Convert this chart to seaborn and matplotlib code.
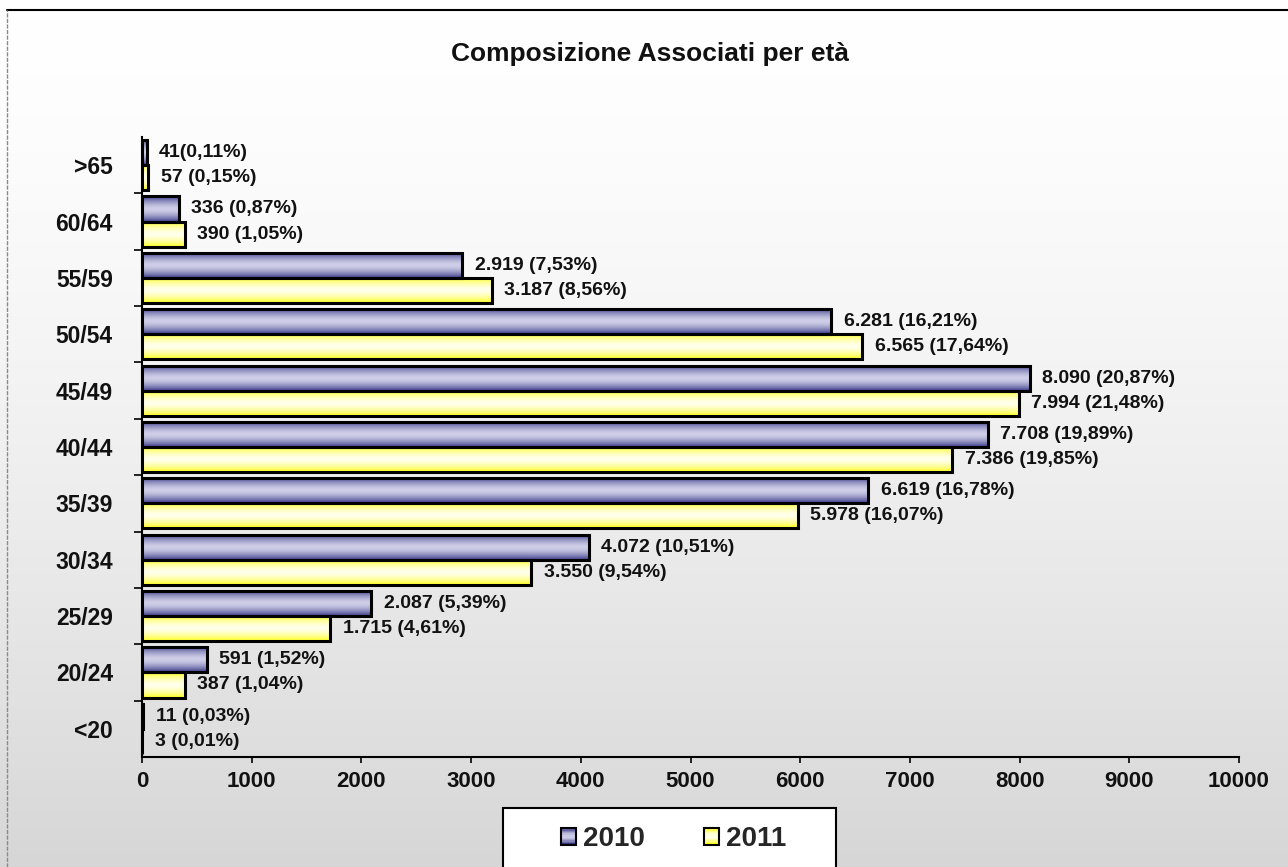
import numpy as np
import pandas as pd
import matplotlib
matplotlib.use("Agg")
import matplotlib.pyplot as plt
import seaborn as sns
from matplotlib.colors import to_rgb
from matplotlib.lines import Line2D
from matplotlib.patches import Rectangle
from matplotlib.legend_handler import HandlerBase

# ---------------- data ----------------
categories = [">65", "60/64", "55/59", "50/54", "45/49", "40/44",
              "35/39", "30/34", "25/29", "20/24", "<20"]
years = ["2010", "2011"]
values_2010 = [41, 336, 2919, 6281, 8090, 7708, 6619, 4072, 2087, 591, 11]
values_2011 = [57, 390, 3187, 6565, 7994, 7386, 5978, 3550, 1715, 387, 3]
labels_2010 = ["41(0,11%)", "336 (0,87%)", "2.919 (7,53%)", "6.281 (16,21%)",
               "8.090 (20,87%)", "7.708 (19,89%)", "6.619 (16,78%)",
               "4.072 (10,51%)", "2.087 (5,39%)", "591 (1,52%)", "11 (0,03%)"]
labels_2011 = ["57 (0,15%)", "390 (1,05%)", "3.187 (8,56%)", "6.565 (17,64%)",
               "7.994 (21,48%)", "7.386 (19,85%)", "5.978 (16,07%)",
               "3.550 (9,54%)", "1.715 (4,61%)", "387 (1,04%)", "3 (0,01%)"]
x_ticks = [0, 1000, 2000, 3000, 4000, 5000, 6000, 7000, 8000, 9000, 10000]
title = "Composizione Associati per età"

df = pd.DataFrame({
    "categoria": categories * 2,
    "valore": values_2010 + values_2011,
    "anno": [years[0]] * len(categories) + [years[1]] * len(categories),
})

# ---------------- style ----------------
sns.set_style("white")
plt.rcParams["font.family"] = ["Liberation Sans", "DejaVu Sans"]
plt.rcParams["font.weight"] = "bold"

edge_cols = {"2010": "#3c3c8a", "2011": "#ffff20"}
center_cols = {"2010": "#cfcfe8", "2011": "#ffffec"}


def gradient_rgb(year, n=64):
    t = np.linspace(-1, 1, n)
    f = 1 - np.abs(t) ** 1.6
    e = np.array(to_rgb(edge_cols[year]))
    c = np.array(to_rgb(center_cols[year]))
    return (e[None, :] + (c - e)[None, :] * f[:, None])


fig = plt.figure(figsize=(12.88, 8.67), dpi=100)

# background gradient (white top -> grey bottom)
bg = fig.add_axes([0, 0, 1, 1], zorder=-10)
tt = np.linspace(0, 1, 400)
g = 1 - 0.16 * tt ** 1.5
bg_img = np.repeat(np.stack([g, g, g], axis=1)[:, None, :], 2, axis=1)
bg.imshow(bg_img, extent=[0, 1, 0, 1], aspect="auto", origin="upper")
bg.set_axis_off()

ax = fig.add_axes([0.1103, 0.1269, 0.8517, 0.7151])
ax.patch.set_alpha(0)

sns.barplot(data=df, y="categoria", x="valore", hue="anno",
            order=categories, hue_order=years, orient="h",
            width=0.89, legend=False, ax=ax, edgecolor="black",
            linewidth=2.2, saturation=1)

label_sets = {"2010": labels_2010, "2011": labels_2011}
for year, cont in zip(years, ax.containers):
    grad = gradient_rgb(year)[:, None, :]
    for patch, lab in zip(cont.patches, label_sets[year]):
        x0, y0 = patch.get_x(), patch.get_y()
        w, h = patch.get_width(), patch.get_height()
        ax.imshow(grad, extent=(x0, x0 + w, y0 + h, y0), aspect="auto",
                  origin="upper", zorder=2, interpolation="bilinear")
        patch.set_facecolor("none")
        patch.set_zorder(3)
        ax.annotate(lab, xy=(x0 + w, y0 + h / 2), xytext=(9, 0),
                    textcoords="offset points", va="center", ha="left",
                    fontsize=14, fontweight="bold", color="#111111", zorder=4)

ax.set_xlim(0, 10000)
ax.set_ylim(len(categories) - 0.5, -0.5)
ax.set_xticks(x_ticks)
ax.set_xticklabels([str(v) for v in x_ticks])
ax.set_yticks(range(len(categories)))
ax.set_yticklabels(categories)
ax.set_yticks(np.arange(0.5, len(categories) - 1, 1.0), minor=True)
ax.tick_params(axis="y", which="major", length=0, pad=21, labelsize=16.5)
ax.tick_params(axis="y", which="minor", length=6, width=1.2, direction="out",
               color="black", left=True)
ax.tick_params(axis="x", which="major", length=4, width=1.2, direction="out",
               color="black", pad=6, labelsize=16, bottom=True)
for lab in ax.get_xticklabels() + ax.get_yticklabels():
    lab.set_fontweight("bold")
    lab.set_color("#111111")
ax.set_xlabel("")
ax.set_ylabel("")
for s in ["top", "right"]:
    ax.spines[s].set_visible(False)
for s in ["left", "bottom"]:
    ax.spines[s].set_color("black")
    ax.spines[s].set_linewidth(1.5)

fig.text(0.505, 0.938, title, ha="center", va="center", fontsize=19,
         fontweight="bold", color="#111111")

# outer chart border
fig.add_artist(Line2D([7 / 1288, 1], [1 - 10 / 867] * 2, color="black", lw=1.5))
fig.add_artist(Line2D([7 / 1288] * 2, [0, 1 - 10 / 867], color="#8a8a8a",
                      lw=1, ls=(0, (3, 1))))

# legend box
fig.add_artist(Rectangle((503 / 1288, -0.05), (836 - 503) / 1288,
                         (1 - 808 / 867) + 0.05, transform=fig.transFigure,
                         facecolor="white", edgecolor="black", lw=1.5,
                         zorder=5))


class GradientHandler(HandlerBase):
    def create_artists(self, legend, orig_handle, xdescent, ydescent,
                       width, height, fontsize, trans):
        year = orig_handle.get_label()
        cols = gradient_rgb(year, n=12)
        arts = []
        n = len(cols)
        for i, c in enumerate(cols):
            r = Rectangle((-xdescent, -ydescent + height * (n - 1 - i) / n),
                          width, height / n, facecolor=c, edgecolor="none",
                          transform=trans)
            arts.append(r)
        arts.append(Rectangle((-xdescent, -ydescent), width, height,
                              facecolor="none", edgecolor="black", lw=1.5,
                              transform=trans))
        return arts


handles = [Rectangle((0, 0), 1, 1, label=y) for y in years]
leg = fig.legend(handles=handles, labels=years, loc="center",
                 bbox_to_anchor=(0.523, 0.0323), ncol=2, frameon=False,
                 prop={"size": 20, "weight": "bold"}, handlelength=0.55,
                 handleheight=0.55, handletextpad=0.25, columnspacing=2.1,
                 handler_map={Rectangle: GradientHandler()})
leg.set_zorder(6)

fig.savefig("out.png", dpi=100)
